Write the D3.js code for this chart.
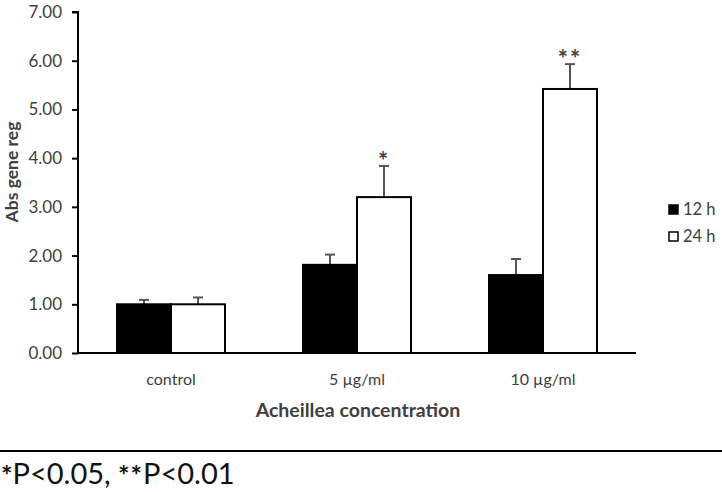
<!DOCTYPE html>
<html><head><meta charset="utf-8">
<script src="https://cdn.jsdelivr.net/npm/d3@7"></script>
<style>body{margin:0;background:#fff}svg{display:block}text{font-family:Lato,"Open Sans",sans-serif}</style>
</head><body><svg id="c" width="722" height="492"></svg>
<script>
const categories = ["control", "5 µg/ml", "10 µg/ml"];
const seriesNames = ["12 h", "24 h"];
const values12 = [1.00, 1.81, 1.60];
const values24 = [1.00, 3.20, 5.42];
const err12 = [0.09, 0.21, 0.33];
const err24 = [0.14, 0.64, 0.51];
const signif24 = ["", "*", "**"];
const yTicks = [0, 1, 2, 3, 4, 5, 6, 7];

const svg = d3.select("#c");
const x0 = 78, x1 = 636, yTop = 12, yBot = 353;
const x = d3.scaleBand().domain(categories).range([x0, x1]).paddingInner(0).paddingOuter(0);
const xs = d3.scaleBand().domain(seriesNames).range([0, 108]);
const y = d3.scaleLinear().domain([0, 7]).range([yBot, yTop]);
const barW = 54;

// y axis
const ya = svg.append("g").attr("transform", `translate(${x0},0)`)
  .call(d3.axisLeft(y).tickValues(yTicks).tickFormat(d3.format(".2f")).tickSize(6).tickPadding(10));
ya.select(".domain").attr("stroke", "#000").attr("stroke-width", 2).attr("d", `M-6,${yTop}H0V${yBot}`);
ya.selectAll(".tick line").attr("stroke", "#000").attr("stroke-width", 2);
ya.selectAll(".tick text").attr("font-size", 17).attr("fill", "#404040").attr("font-family", "Lato");

// baseline
svg.append("line").attr("x1", x0).attr("x2", x1).attr("y1", yBot).attr("y2", yBot)
  .attr("stroke", "#000").attr("stroke-width", 2);

const data = [];
categories.forEach((c, i) => {
  data.push({c, s: "12 h", v: values12[i], e: err12[i], sig: ""});
  data.push({c, s: "24 h", v: values24[i], e: err24[i], sig: signif24[i]});
});
const gx = d => x(d.c) + x.bandwidth() / 2 - 54 + xs(d.s);

// error bars
const eb = svg.append("g");
data.forEach(d => {
  const cx = gx(d) + barW / 2;
  eb.append("line").attr("x1", cx).attr("x2", cx).attr("y1", y(d.v)).attr("y2", y(d.v + d.e))
    .attr("stroke", "#555").attr("stroke-width", 2);
  eb.append("line").attr("x1", cx - 5).attr("x2", cx + 5).attr("y1", y(d.v + d.e)).attr("y2", y(d.v + d.e))
    .attr("stroke", "#555").attr("stroke-width", 2);
  if (d.sig) {
    eb.append("text").attr("x", cx).attr("y", y(d.v + d.e) + 4).attr("text-anchor", "middle")
      .attr("font-size", 24).attr("font-weight", "bold").attr("fill", "#404040").attr("letter-spacing", 2).text(d.sig);
  }
});

// bars
svg.append("g").selectAll("rect").data(data).join("rect")
  .attr("x", d => gx(d)).attr("y", d => y(d.v)).attr("width", barW).attr("height", d => y(0) - y(d.v))
  .attr("fill", d => d.s === "12 h" ? "#000" : "#fff").attr("stroke", "#000").attr("stroke-width", 2);

// x labels
svg.append("g").selectAll("text").data(categories).join("text")
  .attr("x", d => x(d) + x.bandwidth() / 2).attr("y", 385).attr("text-anchor", "middle")
  .attr("font-size", 16).attr("fill", "#404040").text(d => d);

svg.append("text").attr("x", 358).attr("y", 417).attr("text-anchor", "middle")
  .attr("font-size", 19.5).attr("font-weight", "bold").attr("fill", "#404040").text("Acheillea concentration");

svg.append("text").attr("transform", "translate(18,172) rotate(-90)").attr("text-anchor", "middle")
  .attr("font-size", 17.5).attr("font-weight", "bold").attr("fill", "#404040").text("Abs gene reg");

// legend
const lg = svg.append("g");
seriesNames.forEach((s, i) => {
  const ly = 210 + i * 27;
  lg.append("rect").attr("x", 669).attr("y", ly - 5).attr("width", 9).attr("height", 9)
    .attr("fill", i === 0 ? "#000" : "#fff").attr("stroke", "#000").attr("stroke-width", 1.5);
  lg.append("text").attr("x", 683).attr("y", ly + 5).attr("font-size", 16.5).attr("fill", "#404040").text(s);
});

// footnote
svg.append("line").attr("x1", 0).attr("x2", 722).attr("y1", 451).attr("y2", 451).attr("stroke", "#000").attr("stroke-width", 2);
const fn = svg.append("text").attr("x", 1).attr("y", 484).attr("font-size", 29).attr("fill", "#111");
fn.append("tspan").attr("font-size", 27).attr("font-weight", "bold").attr("dy", 1).text("*");
fn.append("tspan").attr("dy", -1).text("P<0.05, ");
fn.append("tspan").attr("font-size", 27).attr("font-weight", "bold").attr("dy", 1).attr("letter-spacing", 1).text("**");
fn.append("tspan").attr("dy", -1).text("P<0.01");
</script></body></html>
